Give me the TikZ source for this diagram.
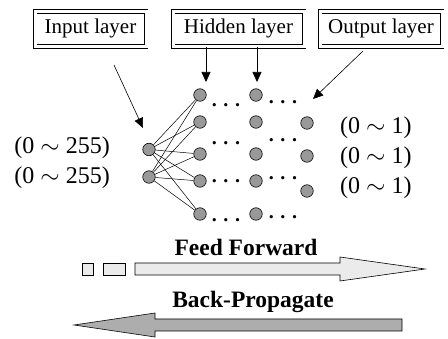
\documentclass[tikz,border=0pt]{standalone}
\usepackage{fontspec}
\setmainfont{Liberation Serif}
\usetikzlibrary{positioning,arrows.meta,calc}

\begin{document}
\begin{tikzpicture}[
        x=1pt, y=-1pt,
        box/.style  = {rectangle, draw, double, double distance=3pt, line width=0.8pt,
                       minimum height=35pt, inner sep=0pt,
                       font=\fontsize{21}{24}\selectfont},
        unit/.style = {circle, draw, line width=0.6pt, fill=black!40,
                       minimum size=12.5pt, inner sep=0pt},
        lbl/.style  = {font=\fontsize{24}{28}\selectfont, inner sep=0pt},
        dotz/.style = {anchor=base, inner sep=0pt, font=\fontsize{20}{24}\selectfont\bfseries},
        big/.style  = {font=\fontsize{23.5}{27}\selectfont\bfseries},
        arr/.style  = {-{Triangle[length=10pt,width=9pt]}, line width=0.6pt},
        wire/.style = {line width=0.5pt}
    ]
    \useasboundingbox (0,0) rectangle (448,339);
    % title boxes
    \node[box, minimum width=111pt] (inbox)  at (90.5,28.8)  {Input layer};
    \node[box, minimum width=131pt] (hidbox) at (238.5,28.8) {Hidden layer};
    \node[box, minimum width=122pt] (outbox) at (381,28.8)   {Output layer};
    % units
    \node[unit] (i1) at (149,149.5) {};
    \node[unit] (i2) at (149,177) {};
    \foreach \j/\yy in {1/95,2/122,3/154,4/181,5/214} {
        \node[unit] (h\j) at (200,\yy) {};
        \node[unit] (g\j) at (256,\yy) {};
    }
    \node[unit] (o1) at (307,123) {};
    \node[unit] (o2) at (307,156) {};
    \node[unit] (o3) at (307,191) {};
    \foreach \i in {1,2}
        \foreach \j in {1,...,5}
            \draw[wire] (i\i) -- (h\j);
    % dots
    \foreach \k/\ya/\yb in {1/107/104,2/145/142,3/183/180,4/222/219} {
        \node[dotz] (da\k) at (226,\ya) {.\,\,.\,\,.};
        \node[dotz] (db\k) at (283,\yb) {.\,\,.\,\,.};
    }
    % value ranges
    \node[lbl, anchor=east] (r1) at (110,148) {(0 $\sim$ 255)};
    \node[lbl, anchor=east] (r2) at (110,178) {(0 $\sim$ 255)};
    \node[lbl, anchor=west] (p1) at (340,128) {(0 $\sim$ 1)};
    \node[lbl, anchor=west] (p2) at (340,158) {(0 $\sim$ 1)};
    \node[lbl, anchor=west] (p3) at (340,188) {(0 $\sim$ 1)};
    % pointers
    \coordinate (inS) at (114,65);
    \coordinate (inT) at (143,128);
    \coordinate (hA) at (206,82);
    \coordinate (hB) at (257,82);
    \coordinate (oS) at (363,51);
    \coordinate (oT) at (313,99);
    \draw[arr] (inS) -- (inT);
    \draw[arr] (hidbox.south -| hA) -- (hA);
    \draw[arr] (hidbox.south -| hB) -- (hB);
    \draw[arr] (oS) -- (oT);
    % direction arrows
    \node[big] (ff) at (246,247) {Feed Forward};
    \node[big] (bp) at (253,302) {Back-Propagate};
    \draw[line width=0.6pt, fill=black!8] (82,263) rectangle (93,275);
    \draw[line width=0.6pt, fill=black!8] (103,263) rectangle (125,275);
    \draw[line width=0.6pt, fill=black!8]
        (135,263) -- (340,263) -- (340,257) -- (425,269) -- (340,281) -- (340,275) -- (135,275) -- cycle;
    \draw[line width=0.6pt, fill=black!32]
        (402,319) -- (155,319) -- (155,313) -- (74,325) -- (155,337) -- (155,331) -- (402,331) -- cycle;
\end{tikzpicture}
\end{document}
